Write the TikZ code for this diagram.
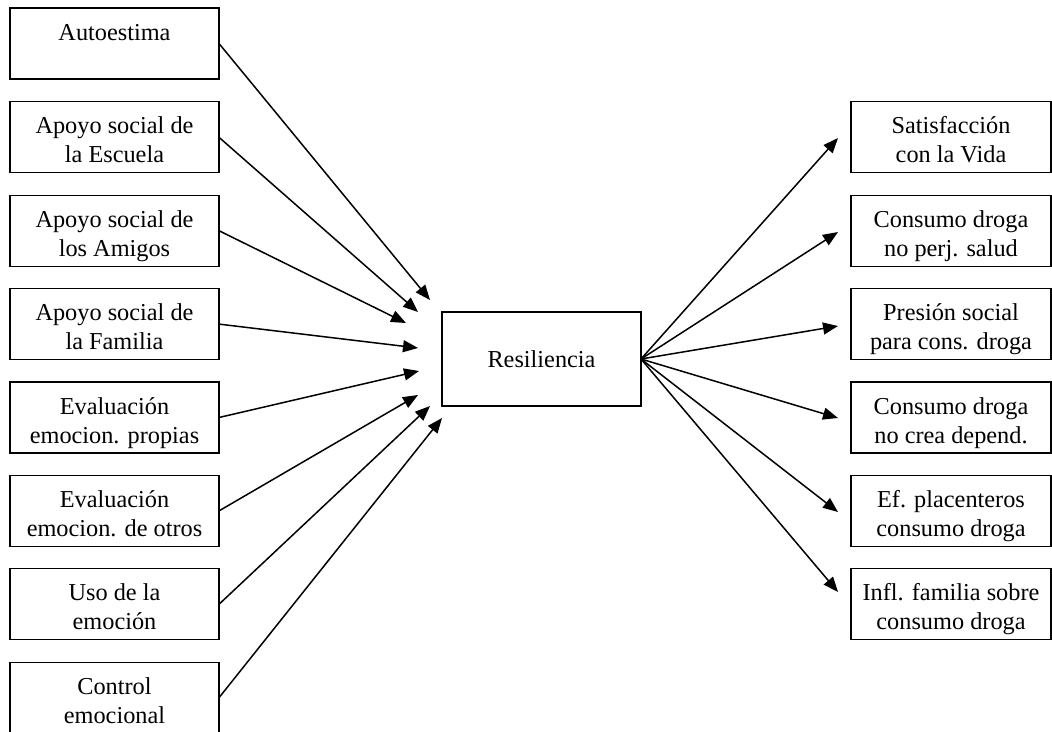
\documentclass[tikz,border=0pt]{standalone}
\usepackage{fontspec}
\setmainfont{Liberation Serif}
\usetikzlibrary{arrows.meta}
\newcommand{\boxlines}[1]{\parbox[t]{200pt}{\centering #1}}
\begin{document}
\begin{tikzpicture}[x=1pt,y=-1pt,
  txt/.style={font=\fontsize{24.3}{29}\selectfont},
  inbox/.style={draw, line width=1.3pt, minimum width=209pt, minimum height=71pt,
    inner sep=0pt, outer sep=0pt, anchor=north west},
  outbox/.style={inbox, minimum width=200pt},
  boxtext/.style={txt, anchor=base, inner sep=0pt, yshift=-32pt},
  link/.style={line width=1.5pt, -{Triangle[length=15pt,width=12pt]}}]
\useasboundingbox (0,0) rectangle (1052,731);

% predictor boxes (left column)
\node[inbox] (a1) at (10,8) {};
\node[inbox] (a2) at (10,101.8) {};
\node[inbox] (a3) at (10,195.2) {};
\node[inbox] (a4) at (10,288.6) {};
\node[inbox] (a5) at (10,382) {};
\node[inbox] (a6) at (10,475.4) {};
\node[inbox] (a7) at (10,568.8) {};
\node[inbox] (a8) at (10,662.2) {};
\node[boxtext] (ta1) at (a1.north) {\boxlines{Autoestima}};
\node[boxtext] (ta2) at (a2.north) {\boxlines{Apoyo social de\\la Escuela}};
\node[boxtext] (ta3) at (a3.north) {\boxlines{Apoyo social de\\los Amigos}};
\node[boxtext] (ta4) at (a4.north) {\boxlines{Apoyo social de\\la Familia}};
\node[boxtext] (ta5) at (a5.north) {\boxlines{Evaluación\\emocion. propias}};
\node[boxtext] (ta6) at (a6.north) {\boxlines{Evaluación\\emocion. de otros}};
\node[boxtext] (ta7) at (a7.north) {\boxlines{Uso de la\\emoción}};
\node[boxtext] (ta8) at (a8.north) {\boxlines{Control\\emocional}};

% central box
\node[draw, line width=1.3pt, minimum width=199pt, minimum height=94pt, inner sep=0pt,
  outer sep=0pt, txt] (res) at (541.5,359) {Resiliencia};

% outcome boxes (right column)
\node[outbox] (b1) at (851,101.8) {};
\node[outbox] (b2) at (851,195.2) {};
\node[outbox] (b3) at (851,288.6) {};
\node[outbox] (b4) at (851,382) {};
\node[outbox] (b5) at (851,475.4) {};
\node[outbox] (b6) at (851,568.8) {};
\node[boxtext] (tb1) at (b1.north) {\boxlines{Satisfacción\\con la Vida}};
\node[boxtext] (tb2) at (b2.north) {\boxlines{Consumo droga\\no perj. salud}};
\node[boxtext] (tb3) at (b3.north) {\boxlines{Presión social\\para cons. droga}};
\node[boxtext] (tb4) at (b4.north) {\boxlines{Consumo droga\\no crea depend.}};
\node[boxtext] (tb5) at (b5.north) {\boxlines{Ef. placenteros\\consumo droga}};
\node[boxtext] (tb6) at (b6.north) {\boxlines{Infl. familia sobre\\consumo droga}};

% arrow tips converging on the central box
\coordinate (e1) at (430,300);
\coordinate (e2) at (418,312);
\coordinate (e3) at (406,323);
\coordinate (e4) at (418,348);
\coordinate (e5) at (419,371);
\coordinate (e6) at (418,395);
\coordinate (e7) at (430,406);
\coordinate (e8) at (442,418);

% arrow tips near the outcome boxes
\coordinate (r1) at (838,138);
\coordinate (r2) at (838,232);
\coordinate (r3) at (838,326);
\coordinate (r4) at (838,418);
\coordinate (r5) at (838,512);
\coordinate (r6) at (838,592);

\foreach \i in {1,...,8} \draw[link] (a\i.east) -- (e\i);
\foreach \j in {1,...,6} \draw[link] (res.east) -- (r\j);
\end{tikzpicture}
\end{document}
